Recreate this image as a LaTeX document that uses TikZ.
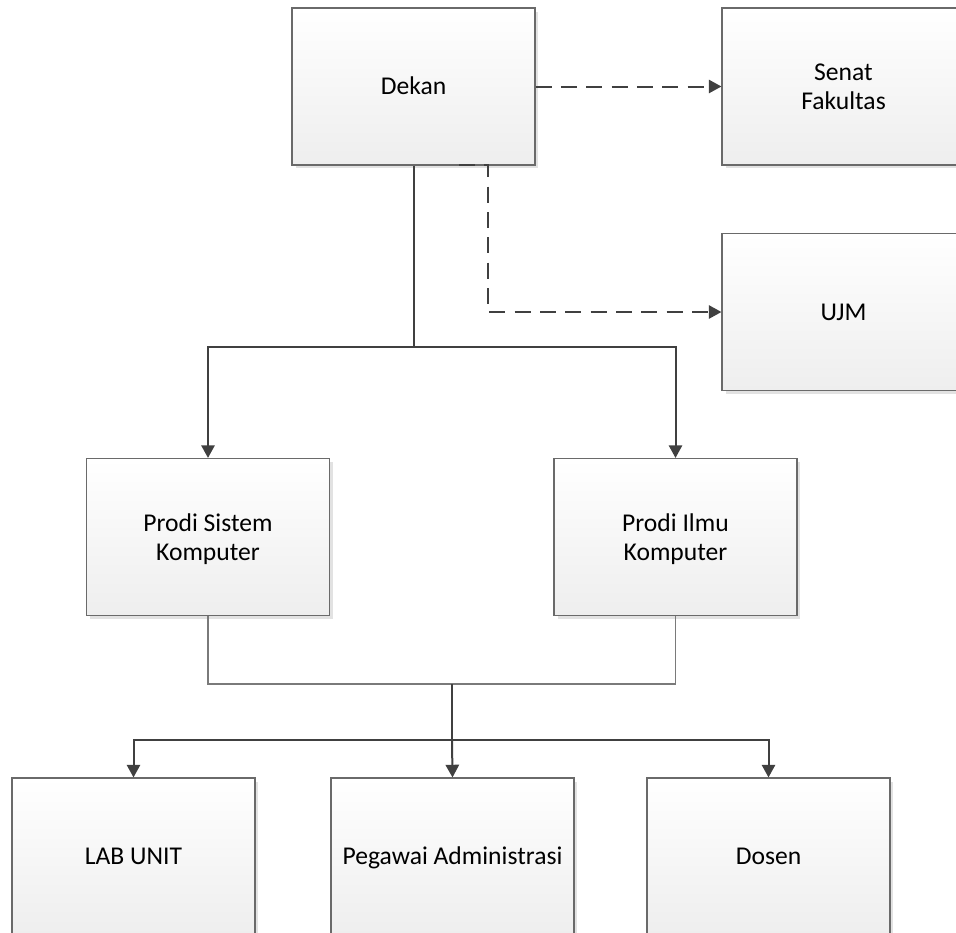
\documentclass[tikz,border=0pt]{standalone}
\usepackage{fontspec}
\setmainfont{Carlito}
\usetikzlibrary{arrows.meta,shadows}
\definecolor{boxline}{HTML}{6A6A6A}
\definecolor{boxbot}{HTML}{EEEEEE}
\definecolor{shadowc}{HTML}{E2E2E2}
\definecolor{lnc}{HTML}{404040}
\definecolor{thinc}{HTML}{7A7A7A}
\begin{document}
\begin{tikzpicture}[x=0.75pt,y=-0.75pt,
  orgbox/.style={draw=boxline,line width=1.1pt,top color=white,bottom color=boxbot,
    minimum width=182pt,minimum height=117.5pt,align=center,inner sep=0pt,
    font=\fontsize{19.2}{22}\selectfont,
    drop shadow={shadow xshift=2.5pt,shadow yshift=-2.5pt,fill=shadowc,opacity=1}},
  oneline/.style={orgbox,text height=16.4pt,text depth=4pt},
  twoline/.style={orgbox,text depth=0pt},
  conn/.style={draw=lnc,line width=1.5pt},
  arr/.style={conn,-{Triangle[length=9.5pt,width=10pt]}},
  dconn/.style={arr,dash pattern=on 12pt off 7pt},
  thinconn/.style={draw=thinc,line width=0.9pt}]
\useasboundingbox (0,0) rectangle (956,932);
\clip (0,0) rectangle (956,932);

\node[oneline] (dekan) at (413.5,86.5) {Dekan};
\node[twoline] (senat) at (843.5,86.5) {Senat\\Fakultas};
\node[oneline] (ujm) at (843.5,312) {UJM};
\node[twoline] (psk) at (208,537) {Prodi Sistem\\Komputer};
\node[twoline] (pik) at (675.5,537) {Prodi Ilmu\\Komputer};
\node[oneline] (lab) at (133.5,856.5) {LAB UNIT};
\node[oneline] (peg) at (452.5,856.5) {Pegawai Administrasi};
\node[oneline] (dosen) at (768.5,856.5) {Dosen};

\coordinate (j1) at (413.5,347);
\coordinate (d0) at (459,165);
\coordinate (d1) at (488,165);
\coordinate (j2) at (452,684);
\coordinate (j3) at (452,740);

% Dekan to Prodi
\draw[conn] (dekan.south) -- (j1);
\draw[arr] (j1) -| (psk.north);
\draw[arr] (j1) -| (pik.north);

% dashed links
\draw[dconn] (dekan.east) -- (senat.west);
\draw[dconn] (d0) -- (d1) |- (ujm.west);

% Prodi join (thin gray with light shadow)
\draw[shadowc,line width=1.2pt,xshift=2pt,yshift=-2pt] (psk.south) |- (j2) -| (pik.south);
\draw[thinconn] (psk.south) |- (j2) -| (pik.south);

% to bottom units
\draw[conn] (j2) -- (j3);
\draw[arr] (j3) -| (lab.north);
\draw[arr] (j3) -- (peg.north);
\draw[arr] (j3) -| (dosen.north);
\end{tikzpicture}
\end{document}
